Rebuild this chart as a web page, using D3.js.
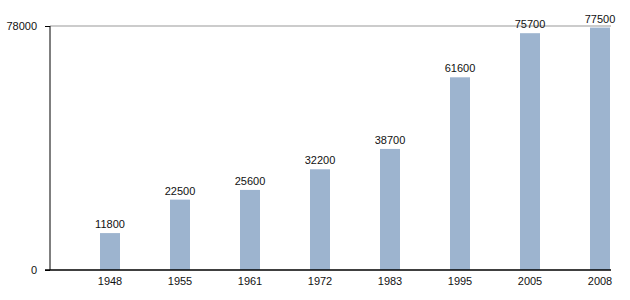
<!DOCTYPE html>
<html>
<head>
<meta charset="utf-8">
<script src="https://cdn.jsdelivr.net/npm/d3@7"></script>
<style>
  body { margin: 0; background: #fff; }
  text { font-family: "Liberation Sans", Arial, sans-serif; font-size: 11px; fill: #111; }
</style>
</head>
<body>
<svg id="viz"></svg>
<script>
const years = ["1948", "1955", "1961", "1972", "1983", "1995", "2005", "2008"];
const population = [11800, 22500, 25600, 32200, 38700, 61600, 75700, 77500];
const yTicks = [0, 78000];

const svg = d3.select("#viz").attr("width", 630).attr("height", 300);

const x = d3.scaleBand()
  .domain(years)
  .range([100, 610])
  .paddingInner(50 / 70)
  .paddingOuter(0);

const y = d3.scaleLinear().domain([0, 78000]).range([270, 26]);

// top grid line
svg.append("line")
  .attr("x1", 50).attr("x2", 611)
  .attr("y1", y(78000)).attr("y2", y(78000))
  .attr("stroke", "#999").attr("stroke-width", 1);

// bars
svg.selectAll("rect.bar")
  .data(population)
  .enter()
  .append("rect")
  .attr("class", "bar")
  .attr("x", (d, i) => x(years[i]))
  .attr("width", x.bandwidth())
  .attr("y", d => y(d))
  .attr("height", d => y(0) - y(d))
  .attr("fill", "#9db4cf");

// value labels
svg.selectAll("text.val")
  .data(population)
  .enter()
  .append("text")
  .attr("class", "val")
  .attr("x", (d, i) => x(years[i]) + x.bandwidth() / 2)
  .attr("y", d => y(d) - 5)
  .attr("text-anchor", "middle")
  .text(d => d);

// y axis
const yAxis = svg.append("g")
  .attr("transform", "translate(50,0)")
  .call(d3.axisLeft(y).tickValues(yTicks).tickSize(5).tickPadding(8).tickFormat(d => d));
yAxis.select(".domain").attr("stroke", "#000").attr("d", `M0,${y(78000)}V${y(0)}`);
yAxis.selectAll(".tick line").attr("stroke", "#000");
yAxis.selectAll("text").style("font-size", "11px").attr("fill", "#111");

// x axis
const xAxis = svg.append("g")
  .attr("transform", `translate(0,${y(0)})`)
  .call(d3.axisBottom(x).tickSize(0).tickPadding(7));
xAxis.select(".domain").attr("stroke", "#000").attr("stroke-width", 1.5).attr("d", "M45,0H611");
xAxis.selectAll("text").style("font-size", "11px").attr("fill", "#111");
</script>
</body>
</html>
